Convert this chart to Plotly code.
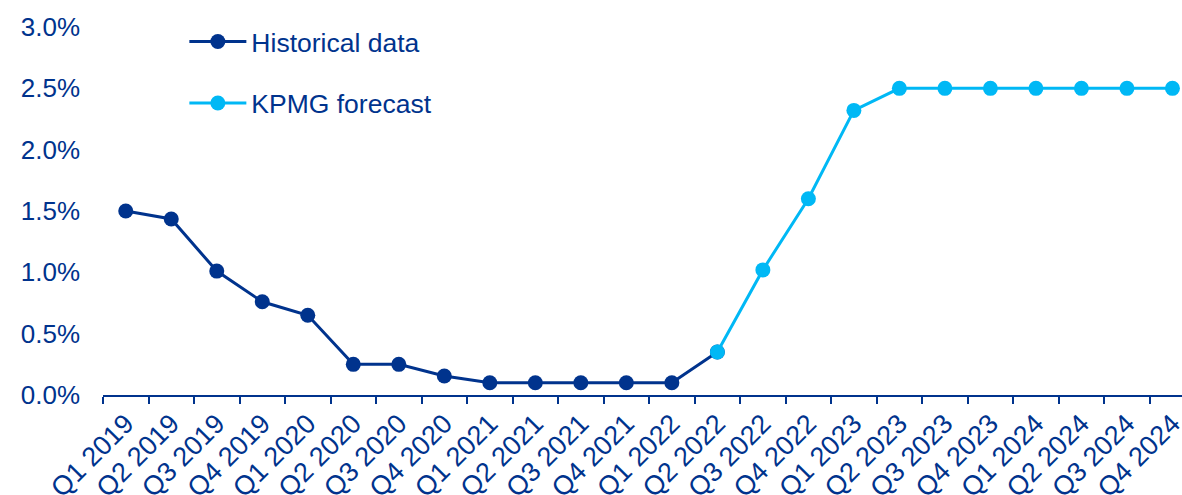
import plotly.graph_objects as go

quarters = ["Q1 2019", "Q2 2019", "Q3 2019", "Q4 2019",
            "Q1 2020", "Q2 2020", "Q3 2020", "Q4 2020",
            "Q1 2021", "Q2 2021", "Q3 2021", "Q4 2021",
            "Q1 2022", "Q2 2022", "Q3 2022", "Q4 2022",
            "Q1 2023", "Q2 2023", "Q3 2023", "Q4 2023",
            "Q1 2024", "Q2 2024", "Q3 2024", "Q4 2024"]

hist_quarters = quarters[:14]
hist_values = [1.50, 1.435, 1.01, 0.76, 0.65, 0.25, 0.25, 0.155,
               0.10, 0.10, 0.10, 0.10, 0.10, 0.35]

fc_quarters = quarters[13:]
fc_values = [0.35, 1.02, 1.60, 2.32, 2.50, 2.50, 2.50, 2.50, 2.50, 2.50, 2.50]

DARK = "#00338D"
LIGHT = "#00B8F5"
FONT = "Liberation Sans, Arial, sans-serif"

fig = go.Figure()
fig.add_trace(go.Scatter(
    x=hist_quarters, y=[v / 100 for v in hist_values],
    mode="lines+markers", name="Historical data", legendgroup="h",
    line=dict(color=DARK, width=3), marker=dict(color=DARK, size=15),
    cliponaxis=False,
))
fig.add_trace(go.Scatter(
    x=fc_quarters, y=[v / 100 for v in fc_values],
    mode="lines+markers", name="KPMG forecast", legendgroup="f",
    line=dict(color=LIGHT, width=3), marker=dict(color=LIGHT, size=15),
    cliponaxis=False,
))

fig.update_layout(
    width=1182, height=495,
    margin=dict(l=103, r=0, t=27, b=100),
    paper_bgcolor="white", plot_bgcolor="white",
    font=dict(family=FONT, color=DARK, size=25),
    legend=dict(x=0.0754, y=1.025, xanchor="left", yanchor="top",
                font=dict(size=26.5, color=DARK), tracegroupgap=24,
                bgcolor="rgba(0,0,0,0)", itemwidth=57),
    showlegend=True,
)
fig.update_xaxes(
    type="category", categoryorder="array", categoryarray=quarters,
    range=[-0.5, 23.21], showline=True, linecolor=DARK, linewidth=2,
    ticks="outside", tickson="boundaries", ticklen=7, tickwidth=2, tickcolor=DARK,
    tickangle=-45, showgrid=False, zeroline=False, automargin=False,
    tickfont=dict(size=27, color=DARK),
)
fig.update_yaxes(
    range=[0, 0.03], tickvals=[0, 0.005, 0.01, 0.015, 0.02, 0.025, 0.03],
    tickformat=".1%", showgrid=False, zeroline=False, showline=False,
    ticks="", ticklabelstandoff=22, automargin=False,
    tickfont=dict(size=26, color=DARK),
)

fig.write_html("out.html")
